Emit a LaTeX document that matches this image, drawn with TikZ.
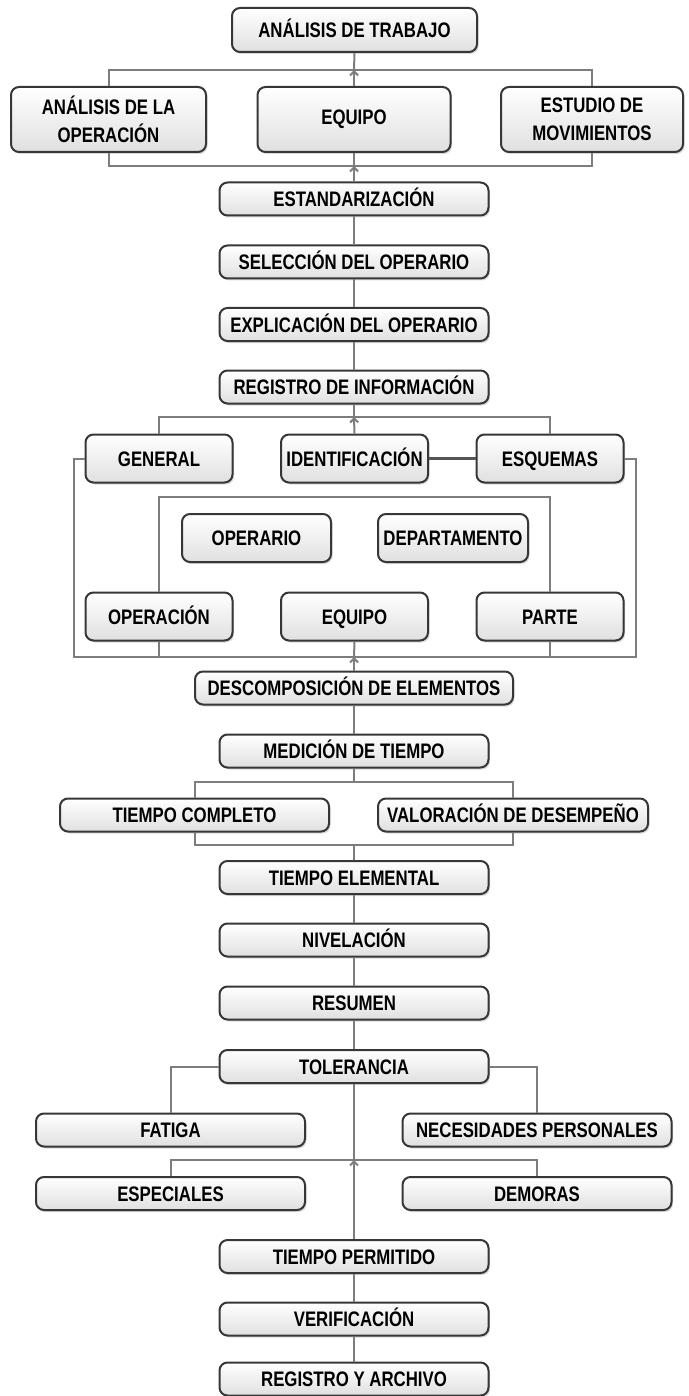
\documentclass[tikz,border=0pt]{standalone}
\usepackage{fontspec}
\setmainfont{Liberation Sans}[FakeStretch=0.8]
\usetikzlibrary{arrows.meta,shadows}
\definecolor{TaLine}{RGB}{125,125,125}
\definecolor{TaBorder}{RGB}{55,55,55}
\definecolor{TaFill}{RGB}{224,224,224}
\tikzset{
  ta/base/.style={
    draw=TaBorder,
    line width=2pt,
    rounded corners=8pt,
    top color=white,
    bottom color=TaFill,
    drop shadow={shadow xshift=1.5pt, shadow yshift=-2pt, opacity=0.3},
    align=center,
    text=black,
    inner sep=0pt,
    font=\fontsize{21}{28}\selectfont\bfseries
  },
  ta/box/.style={ta/base, text height=15.3pt, text depth=0pt, minimum width=269pt, minimum height=33pt},
  ta/wide/.style={ta/base, minimum height=65pt},
  ta/mid/.style={ta/box, minimum width=147pt, minimum height=48pt},
  ta/line/.style={draw=TaLine, line width=2pt},
  ta/arrow/.style={ta/line, -{Straight Barb[length=4pt,width=8pt]}},
  ta/link/.style={draw=TaBorder!85, line width=3pt}
}

\begin{document}
\begin{tikzpicture}[x=1pt,y=-1pt]
  \useasboundingbox (0,0) rectangle (688,1396);
  \node[ta/box, minimum width=245pt, minimum height=44pt] (trabajo) at (354.5,30) {ANÁLISIS DE TRABAJO};
  \node[ta/wide, minimum width=195pt] (operacionA) at (108.5,119.5) {ANÁLISIS DE LA\\OPERACIÓN};
  \node[ta/wide, minimum width=193pt] (equipoA) at (354,119.5) {EQUIPO};
  \node[ta/wide, minimum width=182pt] (movim) at (592,119.5) {ESTUDIO DE\\MOVIMIENTOS};
  \node[ta/box] (estand) at (354,199) {ESTANDARIZACIÓN};
  \node[ta/box] (selec) at (354,262) {SELECCIÓN DEL OPERARIO};
  \node[ta/box] (explic) at (354,324.5) {EXPLICACIÓN DEL OPERARIO};
  \node[ta/box] (registro) at (354,387) {REGISTRO DE INFORMACIÓN};
  \node[ta/mid] (general) at (159,458.5) {GENERAL};
  \node[ta/mid] (ident) at (354.5,458.5) {IDENTIFICACIÓN};
  \node[ta/mid] (esquemas) at (550,458.5) {ESQUEMAS};
  \node[ta/mid, minimum width=149pt] (operario) at (256.5,538) {OPERARIO};
  \node[ta/mid, minimum width=150pt] (depto) at (453,538) {DEPARTAMENTO};
  \node[ta/mid] (operacionB) at (159,616.5) {OPERACIÓN};
  \node[ta/mid] (equipoB) at (354.5,616.5) {EQUIPO};
  \node[ta/mid] (parte) at (550,616.5) {PARTE};
  \node[ta/box, minimum width=318pt] (descomp) at (354,688) {DESCOMPOSICIÓN DE ELEMENTOS};
  \node[ta/box] (medicion) at (354,751) {MEDICIÓN DE TIEMPO};
  \node[ta/box] (tcompleto) at (194.5,815) {TIEMPO COMPLETO};
  \node[ta/box, minimum width=270pt] (valoracion) at (513,815) {VALORACIÓN DE DESEMPEÑO};
  \node[ta/box] (elemental) at (354,877.5) {TIEMPO ELEMENTAL};
  \node[ta/box] (nivelacion) at (354,940) {NIVELACIÓN};
  \node[ta/box] (resumen) at (354,1003) {RESUMEN};
  \node[ta/box] (tolerancia) at (354,1066.5) {TOLERANCIA};
  \node[ta/box] (fatiga) at (170.5,1130) {FATIGA};
  \node[ta/box] (necesidades) at (537,1130) {NECESIDADES PERSONALES};
  \node[ta/box] (especiales) at (170.5,1193.5) {ESPECIALES};
  \node[ta/box] (demoras) at (537,1193.5) {DEMORAS};
  \node[ta/box] (tpermitido) at (354,1256.5) {TIEMPO PERMITIDO};
  \node[ta/box] (verif) at (354,1319) {VERIFICACIÓN};
  \node[ta/box] (archivo) at (354,1379) {REGISTRO Y ARCHIVO};

  \coordinate (busA) at (354,70);
  \coordinate (busB) at (354,166);
  \coordinate (busC) at (354,417);
  \coordinate (innerTop) at (354,497);
  \coordinate (busD) at (354,657);
  \coordinate (outL) at (74,657);
  \coordinate (outR) at (636,657);
  \coordinate (busE) at (354,782);
  \coordinate (busF) at (354,845);
  \coordinate (busG) at (354,1160);

  \draw[ta/line] (operacionA.north) |- (busA) -| (movim.north);
  \draw[ta/line] (busA) -- (trabajo.south);
  \draw[ta/arrow] (equipoA.north) -- (busA);
  \draw[ta/line] (operacionA.south) |- (busB) -| (movim.south);
  \draw[ta/line] (equipoA.south) -- (busB);
  \draw[ta/arrow] (estand.north) -- (busB);
  \draw[ta/line] (estand) -- (selec);
  \draw[ta/line] (selec) -- (explic);
  \draw[ta/line] (explic) -- (registro);
  \draw[ta/line] (general.north) |- (busC) -| (esquemas.north);
  \draw[ta/line] (registro.south) -- (busC);
  \draw[ta/arrow] (ident.north) -- (busC);
  \draw[ta/link] (ident) -- (esquemas);
  \draw[ta/line] (general.west) -| (outL) -- (outR) |- (esquemas.east);
  \draw[ta/line] (operacionB.north) |- (innerTop) -| (parte.north);
  \draw[ta/line] (operacionB.south) -- (operacionB.south |- busD);
  \draw[ta/line] (parte.south) -- (parte.south |- busD);
  \draw[ta/line] (equipoB.south) -- (busD);
  \draw[ta/arrow] (descomp.north) -- (busD);
  \draw[ta/line] (descomp) -- (medicion);
  \draw[ta/line] (tcompleto.north) |- (busE) -| (valoracion.north);
  \draw[ta/line] (medicion.south) -- (busE);
  \draw[ta/line] (tcompleto.south) |- (busF) -| (valoracion.south);
  \draw[ta/line] (busF) -- (elemental.north);
  \draw[ta/line] (elemental) -- (nivelacion);
  \draw[ta/line] (nivelacion) -- (resumen);
  \draw[ta/line] (resumen) -- (tolerancia);
  \draw[ta/line] (tolerancia.west) -| (fatiga.north);
  \draw[ta/line] (tolerancia.east) -| (necesidades.north);
  \draw[ta/line] (especiales.north) |- (busG) -| (demoras.north);
  \draw[ta/line] (tolerancia.south) -- (busG);
  \draw[ta/arrow] (tpermitido.north) -- (busG);
  \draw[ta/line] (tpermitido) -- (verif);
  \draw[ta/line] (verif) -- (archivo);
\end{tikzpicture}
\end{document}
